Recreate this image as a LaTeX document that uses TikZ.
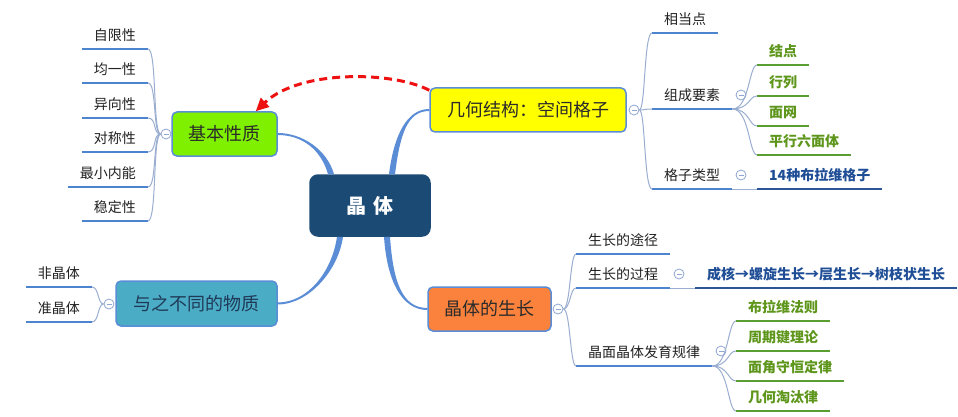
\documentclass[tikz,border=0pt]{standalone}
\usepackage{fontspec}
\setmainfont{Noto Sans CJK SC}
\usetikzlibrary{arrows.meta}
\definecolor{mainc}{HTML}{5B8DD6}
\definecolor{boxblue}{HTML}{5B8DD6}
\definecolor{centerfill}{HTML}{1B4B75}
\definecolor{limefill}{HTML}{7FF000}
\definecolor{tealfill}{HTML}{4BACC6}
\definecolor{yellowfill}{HTML}{FFFF00}
\definecolor{orangefill}{HTML}{FA823C}
\definecolor{ulblue}{HTML}{4C84D0}
\definecolor{fanc}{HTML}{9AAED0}
\definecolor{greenline}{HTML}{5A9E32}
\definecolor{greentext}{HTML}{5E961C}
\definecolor{navytext}{HTML}{1F4E96}
\definecolor{navyline}{HTML}{2C5597}
\definecolor{circblue}{HTML}{8EA6D4}
\definecolor{childtxt}{HTML}{222222}
\definecolor{boxtxt}{HTML}{2B2B2B}
\definecolor{tealtxt}{HTML}{1F3A57}
\definecolor{linkred}{HTML}{EE1111}
\begin{document}
\begin{tikzpicture}[x=1pt,y=-1pt,
  box/.style={draw=boxblue, line width=1.5pt, rounded corners=5pt, inner sep=0pt,
    font=\fontsize{18}{20}\selectfont, text=boxtxt},
  leaf/.style={inner xsep=12pt, inner ysep=5.7pt, text height=11pt, text depth=3pt,
    font=\fontsize{14}{16}\selectfont, text=childtxt},
  gleaf/.style={leaf, font=\fontsize{14}{16}\selectfont\bfseries, text=greentext},
  bleaf/.style={leaf, font=\fontsize{14}{16}\selectfont\bfseries, text=navytext},
  ul/.style={draw=ulblue, line width=2.6pt},
  gul/.style={draw=greenline, line width=1.3pt},
  bul/.style={draw=navyline, line width=1.5pt},
  fan/.style={draw=fanc, line width=1pt},
  collapse/.style={circle, draw=circblue, fill=white, line width=0.8pt, minimum size=10pt, inner sep=0pt,
    path picture={\draw[circblue, line width=0.8pt] ([xshift=-2.5pt]path picture bounding box.center) -- ([xshift=2.5pt]path picture bounding box.center);}},
  ribbon/.style={fill=mainc},
  link/.style={draw=linkred, line width=3pt, dash pattern=on 8pt off 5pt, -{Triangle[length=13pt,width=12pt]}}
]
\useasboundingbox[fill=white] (0,0) rectangle (958,417);

% main nodes
\node[box, fill=centerfill, draw=centerfill, minimum width=120pt, minimum height=61pt, rounded corners=8pt,
  text=white, font=\fontsize{20}{22}\selectfont\bfseries] (c) at (370,205.5) {晶\hspace{7pt}体};
\node[box, fill=limefill, minimum width=105pt, minimum height=44pt] (b) at (224.5,134) {基本性质};
\node[box, fill=yellowfill, minimum width=196pt, minimum height=44pt] (g) at (528,110) {几何结构：空间格子};
\node[box, fill=tealfill, text=tealtxt, minimum width=161pt, minimum height=45pt] (d) at (196.5,303.5) {与之不同的物质};
\node[box, fill=orangefill, minimum width=123pt, minimum height=44pt] (s) at (489.5,309) {晶体的生长};

% main connectors (tapered ribbons)
\fill[ribbon] ([xshift=-42pt]c.north) .. controls +(-7,-25) and +(24,0) .. ([yshift=-1pt]b.east)
  -- ([yshift=1pt]b.east) .. controls +(24,0) and +(-7,-25) .. ([xshift=-36pt]c.north) -- cycle;
\fill[ribbon] ([xshift=19pt]c.north) .. controls +(5,-40) and +(-22,0) .. ([yshift=1pt]g.west)
  -- ([yshift=-1pt]g.west) .. controls +(-22,0) and +(5,-40) .. ([xshift=25pt]c.north) -- cycle;
\fill[ribbon] ([xshift=-27pt]c.south) .. controls +(-5,35) and +(30,0) .. ([yshift=-1pt]d.east)
  -- ([yshift=1pt]d.east) .. controls +(30,0) and +(-5,35) .. ([xshift=-33pt]c.south) -- cycle;
\fill[ribbon] ([xshift=14pt]c.south) .. controls +(3,45) and +(-25,0) .. ([yshift=-1pt]s.west)
  -- ([yshift=1pt]s.west) .. controls +(-25,0) and +(3,45) .. ([xshift=20pt]c.south) -- cycle;

% collapse markers
\node[collapse] (cb) at (166,134) {};
\node[collapse] (cg) at (634,110) {};
\node[collapse] (cs) at (558,309) {};
\node[collapse] (cd) at (109,304) {};

% children of 基本性质
\node[leaf, anchor=south east] (b1) at (148,49) {自限性};
\node[leaf, anchor=south east] (b2) at (148,83) {均一性};
\node[leaf, anchor=south east] (b3) at (148,118) {异向性};
\node[leaf, anchor=south east] (b4) at (148,152) {对称性};
\node[leaf, anchor=south east] (b5) at (148,187) {最小内能};
\node[leaf, anchor=south east] (b6) at (148,221) {稳定性};
\foreach \n in {b1,b2,b3,b4,b5,b6}{
  \draw[ul] (\n.south west) -- (\n.south east);
  \draw[fan] (cb.west) .. controls +(-8,0) and +(9,0) .. (\n.south east);
}

% children of 与之不同的物质
\node[leaf, anchor=south east] (d1) at (92,287) {非晶体};
\node[leaf, anchor=south east] (d2) at (92,322) {准晶体};
\foreach \n in {d1,d2}{
  \draw[ul] (\n.south west) -- (\n.south east);
  \draw[fan] (cd.west) .. controls +(-6,0) and +(7,0) .. (\n.south east);
}

% children of 几何结构
\node[leaf, anchor=south west] (g1) at (652,33) {相当点};
\node[leaf, anchor=south west] (g2) at (652,109) {组成要素};
\node[leaf, anchor=south west] (g3) at (652,189) {格子类型};
\foreach \n in {g1,g2,g3}{
  \draw[ul] (\n.south west) -- (\n.south east);
  \draw[fan] (cg.east) .. controls +(6,0) and +(-8,0) .. (\n.south west);
}
\node[collapse] (cg2) at (741,95) {};
\node[collapse] (cg3) at (741,175) {};
\node[gleaf, anchor=south west] (e1) at (757,65) {结点};
\node[gleaf, anchor=south west] (e2) at (757,96) {行列};
\node[gleaf, anchor=south west] (e3) at (757,126) {面网};
\node[gleaf, anchor=south west] (e4) at (757,155) {平行六面体};
\foreach \n in {e1,e2,e3,e4}{
  \draw[gul] (\n.south west) -- (\n.south east);
  \draw[fan] (g2.south east) .. controls +(17,0) and +(-8,0) .. (\n.south west);
}
\node[bleaf, anchor=south west] (k) at (757,189) {14种布拉维格子};
\draw[bul] (k.south west) -- (k.south east);
\draw[fan] (g3.south east) -- (k.south west);

% children of 晶体的生长
\node[leaf, anchor=south west] (t1) at (576,254) {生长的途径};
\node[leaf, anchor=south west] (t2) at (576,288) {生长的过程};
\node[leaf, anchor=south west] (t3) at (576,366) {晶面晶体发育规律};
\foreach \n in {t1,t2,t3}{
  \draw[ul] (\n.south west) -- (\n.south east);
  \draw[fan] (cs.east) .. controls +(7,0) and +(-6,0) .. (\n.south west);
}
\node[collapse] (ct2) at (679,274) {};
\node[collapse] (ct3) at (721,351) {};
\node[bleaf, anchor=south west, minimum width=262pt] (p) at (695,288) {成核→螺旋生长→层生长→树枝状生长};
\draw[bul] (p.south west) -- (p.south east);
\draw[fan] (t2.south east) -- (p.south west);
\node[gleaf, anchor=south west] (r1) at (736,321) {布拉维法则};
\node[gleaf, anchor=south west] (r2) at (736,351) {周期键理论};
\node[gleaf, anchor=south west] (r3) at (736,381) {面角守恒定律};
\node[gleaf, anchor=south west] (r4) at (736,411) {几何淘汰律};
\foreach \n in {r1,r2,r3,r4}{
  \draw[gul] (\n.south west) -- (\n.south east);
  \draw[fan] (t3.south east) .. controls +(16,0) and +(-8,0) .. (\n.south west);
}

% relation arrow
\draw[link] ([yshift=-3pt]g.north west) .. controls +(-36,-19) and +(44,-42) .. ([xshift=-22pt]b.north east);
\end{tikzpicture}
\end{document}
